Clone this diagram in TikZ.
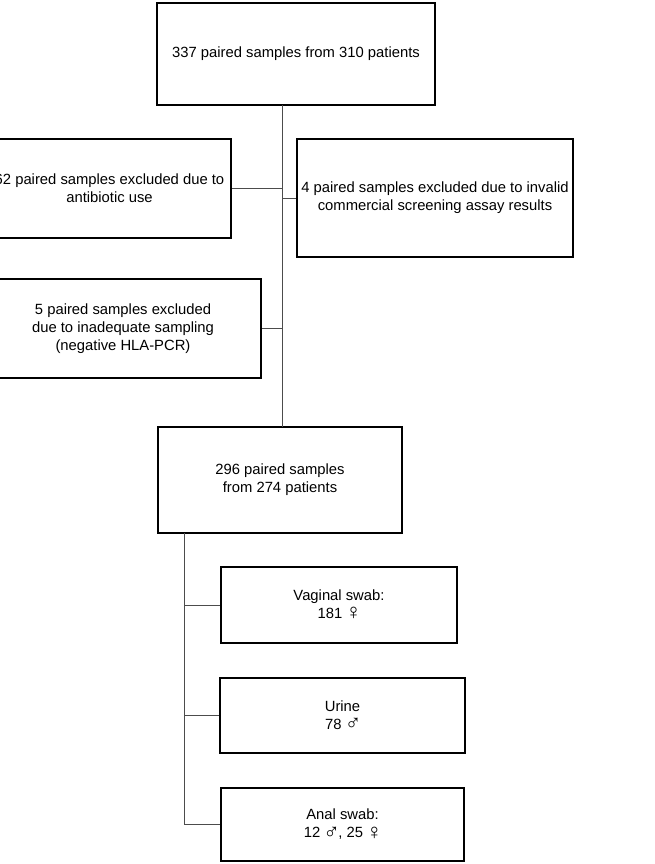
\documentclass[tikz,border=0pt]{standalone}
\usepackage{fontspec}
\setmainfont{Liberation Sans}
\newcommand{\gsym}[1]{\kern-1pt\raisebox{-1.2pt}{\fontsize{22}{18}\selectfont #1}\kern-1.5pt}
\begin{document}
\begin{tikzpicture}[x=1pt,y=-1pt,
  boxnode/.style={draw=black,line width=2.4pt,fill=white,align=center,inner sep=0pt,
    font=\fontsize{14.8}{18}\selectfont},
  link/.style={draw=black!70,line width=1pt}]
\useasboundingbox (0,0) rectangle (655,864);
\node[boxnode,minimum width=243pt,minimum height=99pt] (ab) at (109.5,188.5) {62 paired samples excluded due to\\antibiotic use};
\node[boxnode,minimum width=278pt,minimum height=102pt] (top) at (296,54) {337 paired samples from 310 patients};
\node[boxnode,minimum width=276pt,minimum height=118pt] (inv) at (435,198) {4 paired samples excluded due to invalid\\commercial screening assay results};
\node[boxnode,minimum width=276pt,minimum height=99pt] (hla) at (123,328.5) {5 paired samples excluded\\due to inadequate sampling\\(negative HLA-PCR)};
\node[boxnode,minimum width=244pt,minimum height=106pt] (mid) at (280,480) {296 paired samples\\from 274 patients};
\node[boxnode,minimum width=236pt,minimum height=76pt] (vag) at (339,605) {Vaginal swab:\\181 \gsym{♀}};
\node[boxnode,minimum width=245pt,minimum height=75pt] (uri) at (342.5,715.5) {Urine\\78 \gsym{♂}};
\node[boxnode,minimum width=243pt,minimum height=73pt] (anal) at (342.5,824.5) {Anal swab:\\12 \gsym{♂}, 25 \gsym{♀}};
\coordinate (tbot) at (282,105);
\coordinate (mtop) at (282,427);
\coordinate (mbot) at (184,533);
\draw[link] (tbot) -- (mtop);
\draw[link] (ab.east) -- (ab.east -| tbot);
\draw[link] (inv.west) -- (inv.west -| tbot);
\draw[link] (hla.east) -- (hla.east -| tbot);
\draw[link] (mbot) -- (anal.west -| mbot) -- (anal.west);
\draw[link] (vag.west) -- (vag.west -| mbot);
\draw[link] (uri.west) -- (uri.west -| mbot);
\end{tikzpicture}
\end{document}
